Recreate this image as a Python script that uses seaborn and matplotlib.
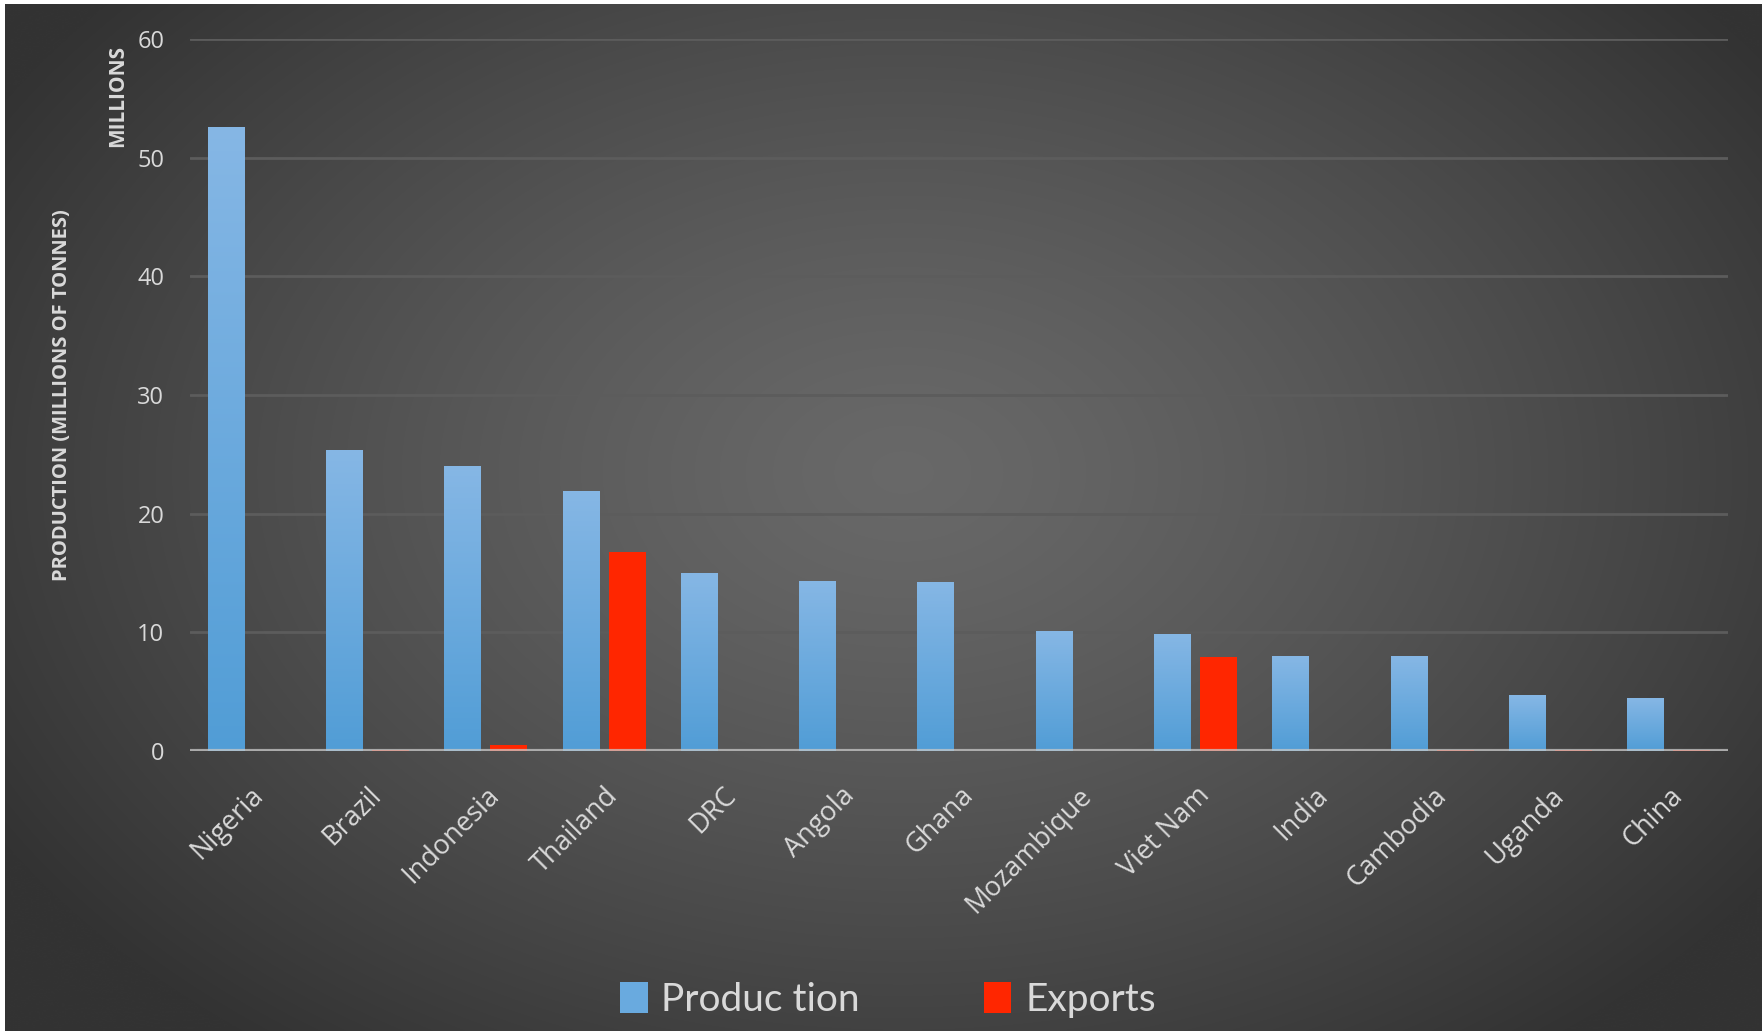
import numpy as np
import pandas as pd
import seaborn as sns
import matplotlib.pyplot as plt
from matplotlib.patches import Patch

# data (millions of tonnes)
countries = ["Nigeria", "Brazil", "Indonesia", "Thailand", "DRC", "Angola", "Ghana",
             "Mozambique", "Viet Nam", "India", "Cambodia", "Uganda", "China"]
production = [52.6, 25.4, 24.05, 21.9, 15.0, 14.35, 14.25, 10.1, 9.9, 8.0, 8.0, 4.7, 4.45]
exports = [0.0, 0.1, 0.5, 16.8, 0.0, 0.0, 0.0, 0.0, 7.95, 0.0, 0.1, 0.1, 0.1]
series_names = ["Produc tion", "Exports"]

df = pd.DataFrame({
    "country": countries * 2,
    "value": production + exports,
    "series": [series_names[0]] * len(countries) + [series_names[1]] * len(countries),
})

sns.set_theme(style="white")
plt.rcParams["font.family"] = ["Open Sans", "DejaVu Sans"]

W, H = 1762, 1031
fig = plt.figure(figsize=(W / 100, H / 100), dpi=100, facecolor="white")

# radial dark-grey background
bg = fig.add_axes([5 / W, 0, 1 - 5 / W, 1 - 4 / H], zorder=-10)
yy, xx = np.mgrid[0:H, 0:W]
d = np.sqrt(((xx - 900) / 1050.0) ** 2 + ((yy - 470) / 720.0) ** 2)
d = np.clip(d, 0, 1)
lum = 0.41 - 0.21 * d ** 1.3
bg.imshow(np.dstack([lum, lum, lum]), aspect="auto", extent=[0, 1, 0, 1], origin="upper")
bg.set_axis_off()

ax = fig.add_axes([190 / W, 1 - 751 / H, (1728 - 190) / W, (751 - 39) / H])
ax.patch.set_alpha(0)

sns.barplot(data=df, x="country", y="value", hue="series",
            palette=["#69aadf", "#ff2600"], saturation=1, width=0.78, gap=0.2,
            linewidth=0, edgecolor="none", legend=False, ax=ax, zorder=3)

# vertical gradient on the production bars
grad = np.linspace(0, 1, 256).reshape(-1, 1)
top = np.array([0x86, 0xb7, 0xe5]) / 255
bot = np.array([0x51, 0x9d, 0xd6]) / 255
grad_rgb = top[None, None, :] * (1 - grad[:, :, None]) + bot[None, None, :] * grad[:, :, None]
for bar in ax.containers[0]:
    x0, y0 = bar.get_x(), bar.get_y()
    w, h = bar.get_width(), bar.get_height()
    im = ax.imshow(grad_rgb, extent=[x0, x0 + w, y0, y0 + h], aspect="auto",
                   origin="upper", zorder=4)
    im.set_clip_path(bar)

ax.set_xlim(-0.5, len(countries) - 0.5)
ax.set_ylim(0, 60)
ax.set_yticks([0, 10, 20, 30, 40, 50, 60])
ax.grid(axis="y", color="#5c5c5c", linewidth=2, zorder=0)
ax.grid(axis="x", visible=False)
ax.axhline(0, color="#c8c8c8", linewidth=3, alpha=0.75, zorder=6)
for s in ax.spines.values():
    s.set_visible(False)
ax.tick_params(axis="both", length=0, colors="#d9d9d9")
ax.tick_params(axis="y", pad=18.5, labelsize=17)
ax.tick_params(axis="x", pad=22, labelsize=19.5)
for lab in ax.get_xticklabels():
    lab.set_rotation(45)
    lab.set_ha("right")
    lab.set_rotation_mode("anchor")
ax.set_xlabel("")
ax.set_ylabel("")

fig.text(62 / W, 1 - 395 / H, "PRODUCTION (MILLIONS OF TONNES)", rotation=90,
         ha="center", va="center", color="#d9d9d9", fontsize=14.5, fontweight="bold")
fig.text(118 / W, 1 - 45 / H, "MILLIONS", rotation=90,
         ha="center", va="top", color="#d9d9d9", fontsize=15, fontweight="bold")

handles = [Patch(facecolor="#69aadf", edgecolor="none"),
           Patch(facecolor="#ff2600", edgecolor="none")]
fig.legend(handles, series_names, loc="center", bbox_to_anchor=(888 / W, 1 - 1000 / H),
           ncol=2, frameon=False, labelcolor="#d9d9d9",
           handlelength=0.7, handleheight=0.85, handletextpad=0.35, columnspacing=3.2,
           prop={"family": ["Lato", "DejaVu Sans"], "size": 28})

fig.savefig("out.png", dpi=100, facecolor=fig.get_facecolor())
